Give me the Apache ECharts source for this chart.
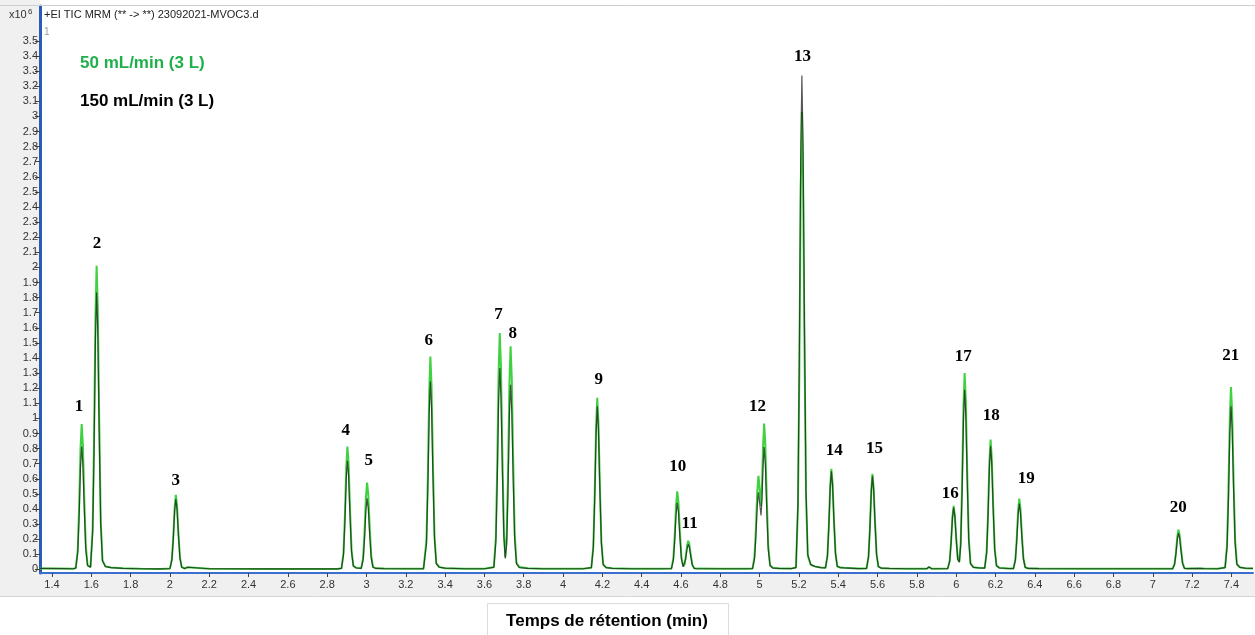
<!DOCTYPE html>
<html><head><meta charset="utf-8">
<script src="https://cdn.jsdelivr.net/npm/echarts@6/dist/echarts.min.js"></script>
<style>html,body{margin:0;padding:0;background:#fff;}#c{width:1255px;height:635px;}</style>
</head><body><div id="c"></div>
<script>
// Retention time (min) for each sampled point of the chromatogram
const times = [
 1.339,1.45,1.51,
 1.521,1.531,1.538,1.545,1.551,1.557,1.564,1.572,1.581,
 1.596,
 1.607,1.614,1.621,1.627,1.633,1.640,1.648,1.657,1.672,
 1.70,1.76,1.85,1.95,
 2.000,2.010,2.017,2.024,2.030,2.036,2.043,2.051,2.060,2.075,
 2.09,2.1,2.2,2.5,2.85,
 2.873,2.883,2.890,2.897,2.903,2.909,2.916,2.924,2.933,2.948,
 2.973,2.983,2.990,2.997,3.003,3.009,3.016,3.024,3.033,3.048,
 3.09,3.2,3.29,
 3.295,3.305,3.312,3.319,3.325,3.331,3.338,3.346,3.355,3.370,
 3.40,3.5,3.6,
 3.648,3.658,3.665,3.672,3.678,3.684,3.691,3.699,3.706,3.713,3.720,3.727,3.733,3.739,3.746,3.754,3.763,3.778,
 3.82,3.9,4.1,
 4.144,4.154,4.161,4.168,4.174,4.180,4.187,4.195,4.204,4.219,
 4.25,4.35,4.5,
 4.551,4.561,4.568,4.575,4.581,4.587,4.594,4.602,4.611,4.619,4.624,4.631,4.637,4.643,4.650,4.658,4.667,4.682,
 4.8,4.93,
 4.964,4.974,4.981,4.988,4.994,5.000,5.007,5.012,5.017,5.023,5.029,5.036,5.044,5.053,5.068,
 5.1,5.16,
 5.185,5.195,5.202,5.209,5.215,5.221,5.228,5.236,5.245,5.260,
 5.28,5.31,
 5.335,5.345,5.352,5.359,5.365,5.371,5.378,5.386,5.395,5.410,
 5.42,5.43,5.5,
 5.544,5.554,5.561,5.568,5.574,5.580,5.587,5.595,5.604,5.619,
 5.66,5.75,5.85,5.862,5.875,
 5.957,5.967,5.974,5.981,5.987,5.993,6.000,6.008,6.016,6.023,6.030,6.037,6.043,6.049,6.056,6.064,6.073,6.088,
 6.12,
 6.145,6.155,6.162,6.169,6.175,6.181,6.188,6.196,6.205,6.220,
 6.26,
 6.291,6.301,6.308,6.315,6.321,6.327,6.334,6.342,6.351,6.366,
 6.42,6.6,6.9,
 7.101,7.111,7.118,7.125,7.131,7.137,7.144,7.152,7.161,7.176,
 7.24,7.25,7.26,7.33,
 7.368,7.378,7.385,7.392,7.398,7.404,7.411,7.419,7.428,7.443,
 7.47,7.51
];
// Intensity (x10^6) at 50 mL/min (3 L)
const flow50 = [
 0.006,0.005,0.004,
 0.01,0.13,0.414,0.798,0.962,0.827,0.481,0.154,0.029,
 0.015,
 0.271,0.864,1.668,2.01,1.729,1.005,0.322,0.06,0.02,
 0.012,0.007,0.004,0.003,
 0.005,0.067,0.212,0.409,0.493,0.424,0.247,0.079,0.015,0.006,
 0.014,0.007,0.004,0.003,0.003,
 0.008,0.11,0.35,0.675,0.813,0.699,0.407,0.13,0.024,0.01,
 0.007,0.078,0.247,0.477,0.575,0.495,0.288,0.092,0.017,0.007,
 0.005,0.004,0.004,
 0.014,0.19,0.606,1.17,1.41,1.213,0.705,0.226,0.042,0.016,
 0.008,0.004,0.004,
 0.016,0.211,0.673,1.299,1.565,1.346,0.783,0.25,0.08,0.2,0.635,1.226,1.477,1.27,0.739,0.236,0.044,0.015,
 0.007,0.004,0.004,
 0.011,0.153,0.489,0.944,1.137,0.978,0.569,0.182,0.034,0.012,
 0.007,0.004,0.004,
 0.005,0.07,0.222,0.428,0.516,0.444,0.258,0.083,0.02,0.035,0.082,0.158,0.19,0.163,0.095,0.03,0.008,0.005,
 0.004,0.004,
 0.006,0.084,0.267,0.515,0.62,0.54,0.42,0.55,0.8,0.965,0.83,0.483,0.154,0.029,0.01,
 0.006,0.005,
 0.012,0.409,1.303,2.515,3.03,2.606,1.515,0.485,0.091,0.03,
 0.02,0.012,
 0.01,0.09,0.286,0.553,0.666,0.573,0.333,0.107,0.02,0.012,
 0.02,0.01,0.005,
 0.006,0.085,0.272,0.525,0.632,0.544,0.316,0.101,0.019,0.008,
 0.006,0.004,0.004,0.016,0.004,
 0.005,0.057,0.181,0.349,0.42,0.361,0.21,0.07,0.05,0.175,0.559,1.079,1.30,1.118,0.65,0.208,0.039,0.014,
 0.009,
 0.009,0.116,0.37,0.714,0.86,0.74,0.43,0.138,0.026,0.01,
 0.006,
 0.005,0.063,0.201,0.388,0.468,0.402,0.234,0.075,0.014,0.006,
 0.005,0.004,0.004,
 0.004,0.036,0.113,0.218,0.263,0.226,0.132,0.042,0.008,0.005,
 0.006,0.01,0.005,0.004,
 0.012,0.163,0.519,1.002,1.207,1.038,0.604,0.193,0.036,0.014,
 0.008,0.006
];
// Intensity (x10^6) at 150 mL/min (3 L)
const flow150 = [
 0.006,0.005,0.004,
 0.008,0.11,0.35,0.675,0.813,0.699,0.407,0.13,0.024,
 0.015,
 0.247,0.788,1.521,1.833,1.576,0.917,0.293,0.055,0.018,
 0.012,0.007,0.004,0.003,
 0.005,0.063,0.2,0.386,0.465,0.4,0.233,0.074,0.014,0.006,
 0.014,0.007,0.004,0.003,0.003,
 0.007,0.097,0.309,0.597,0.719,0.618,0.36,0.115,0.022,0.009,
 0.006,0.063,0.202,0.39,0.47,0.404,0.235,0.075,0.014,0.006,
 0.005,0.004,0.004,
 0.012,0.168,0.535,1.033,1.244,1.07,0.622,0.199,0.037,0.014,
 0.008,0.004,0.004,
 0.013,0.18,0.573,1.106,1.333,1.146,0.667,0.213,0.073,0.165,0.526,1.015,1.223,1.052,0.612,0.196,0.037,0.012,
 0.007,0.004,0.004,
 0.011,0.146,0.464,0.896,1.08,0.929,0.54,0.173,0.032,0.011,
 0.007,0.004,0.004,
 0.004,0.059,0.189,0.365,0.44,0.378,0.22,0.07,0.017,0.03,0.071,0.138,0.166,0.143,0.083,0.027,0.007,0.004,
 0.004,0.004,
 0.005,0.069,0.219,0.423,0.51,0.44,0.357,0.46,0.672,0.81,0.697,0.405,0.13,0.024,0.008,
 0.006,0.005,
 0.012,0.441,1.406,2.714,3.27,2.812,1.635,0.523,0.098,0.033,
 0.02,0.012,
 0.01,0.088,0.28,0.54,0.65,0.559,0.325,0.104,0.02,0.012,
 0.02,0.01,0.005,
 0.006,0.083,0.266,0.513,0.618,0.531,0.309,0.099,0.019,0.008,
 0.006,0.004,0.004,0.016,0.004,
 0.005,0.055,0.176,0.34,0.41,0.353,0.205,0.068,0.048,0.161,0.512,0.988,1.19,1.023,0.595,0.19,0.036,0.013,
 0.009,
 0.008,0.11,0.35,0.676,0.815,0.701,0.408,0.13,0.024,0.009,
 0.006,
 0.004,0.059,0.187,0.361,0.435,0.374,0.218,0.07,0.013,0.006,
 0.005,0.004,0.004,
 0.004,0.032,0.103,0.199,0.24,0.206,0.12,0.038,0.007,0.005,
 0.006,0.01,0.005,0.004,
 0.011,0.146,0.464,0.896,1.08,0.929,0.54,0.173,0.032,0.013,
 0.008,0.006
];
// Peak numbers and the (time, intensity) where each number is written
const peakNames = ['1','2','3','4','5','6','7','8','9','10','11','12','13','14','15','16','17','18','19','20','21'];
const peakLabelTimes = [1.537,1.629,2.030,2.895,3.012,3.317,3.672,3.744,4.181,4.583,4.644,4.989,5.218,5.380,5.584,5.970,6.036,6.179,6.357,7.130,7.397];
const peakLabelLevels = [1.075,2.155,0.585,0.917,0.718,1.513,1.685,1.559,1.254,0.678,0.301,1.075,3.393,0.784,0.797,0.499,1.407,1.016,0.599,0.407,1.413];
// Axis tick labels
const xTicks = [1.4,1.6,1.8,2,2.2,2.4,2.6,2.8,3,3.2,3.4,3.6,3.8,4,4.2,4.4,4.6,4.8,5,5.2,5.4,5.6,5.8,6,6.2,6.4,6.6,6.8,7,7.2,7.4];
const yTicks = [0,0.1,0.2,0.3,0.4,0.5,0.6,0.7,0.8,0.9,1,1.1,1.2,1.3,1.4,1.5,1.6,1.7,1.8,1.9,2,2.1,2.2,2.3,2.4,2.5,2.6,2.7,2.8,2.9,3,3.1,3.2,3.3,3.4,3.5];
const seriesNames = ['50 mL/min (3 L)', '150 mL/min (3 L)'];
const headerText = '+EI TIC MRM (** -> **) 23092021-MVOC3.d';
const xTitle = 'Temps de rétention (min)';

if (times.length !== flow50.length || times.length !== flow150.length) {
  console.error('length mismatch', times.length, flow50.length, flow150.length);
}
const d50 = times.map((t, i) => [t, flow50[i]]);
const d150 = times.map((t, i) => [t, flow150[i]]);

const chart = echarts.init(document.getElementById('c'), null, { renderer: 'canvas' });
const fmt = v => String(+(+v).toFixed(1));
const staticGraphic = [
  { type: 'rect', silent: true, z: -10, shape: { x: 0, y: 0, width: 40, height: 596 }, style: { fill: '#f0f0f0' } },
  { type: 'rect', silent: true, z: -10, shape: { x: 0, y: 574, width: 1255, height: 22 }, style: { fill: '#f0f0f0' } },
  { type: 'line', silent: true, z: 5, shape: { x1: 0, y1: 596.5, x2: 1255, y2: 596.5 }, style: { stroke: '#d6d6d6', lineWidth: 1 } },
  { type: 'line', silent: true, z: 5, shape: { x1: 0, y1: 5.5, x2: 1255, y2: 5.5 }, style: { stroke: '#cfcfcf', lineWidth: 1 } },
  { type: 'text', silent: true, z: 10, style: { x: 9, y: 15, text: 'x10', fill: '#333', font: '11px "Liberation Sans", Arial', textVerticalAlign: 'middle' } },
  { type: 'text', silent: true, z: 10, style: { x: 28, y: 12, text: '6', fill: '#333', font: '8px "Liberation Sans", Arial', textVerticalAlign: 'middle' } },
  { type: 'text', silent: true, z: 10, style: { x: 44, y: 15, text: headerText, fill: '#222', font: '11px "Liberation Sans", Arial', textVerticalAlign: 'middle' } },
  { type: 'text', silent: true, z: 10, style: { x: 44, y: 32, text: '1', fill: '#999', font: '10px "Liberation Sans", Arial', textVerticalAlign: 'middle' } },
  { type: 'text', silent: true, z: 10, style: { x: 80, y: 63, text: seriesNames[0], fill: '#1fb04c', font: 'bold 17px "Liberation Sans", Arial', textVerticalAlign: 'middle' } },
  { type: 'text', silent: true, z: 10, style: { x: 80, y: 101, text: seriesNames[1], fill: '#000', font: 'bold 17px "Liberation Sans", Arial', textVerticalAlign: 'middle' } },
  { type: 'rect', silent: true, z: 5, shape: { x: 487.5, y: 603.5, width: 241, height: 40 }, style: { fill: '#fff', stroke: '#dcdcdc', lineWidth: 1 } },
  { type: 'text', silent: true, z: 10, style: { x: 607, y: 621, text: xTitle, fill: '#000', font: 'bold 17px "Liberation Sans", Arial', textAlign: 'center', textVerticalAlign: 'middle' } }
];
chart.setOption({
  animation: false,
  backgroundColor: '#ffffff',
  grid: { left: 40, right: 2, top: 6, bottom: 62, show: true, backgroundColor: '#ffffff', borderWidth: 0 },
  graphic: staticGraphic,
  xAxis: {
    type: 'value', min: 1.339, max: 7.51,
    axisLine: { show: true, onZero: false, lineStyle: { color: '#3a6fcf', width: 2 } },
    axisTick: { show: true, customValues: xTicks, length: 4, lineStyle: { color: '#444' } },
    axisLabel: { customValues: xTicks, formatter: fmt, color: '#333', fontSize: 11, fontFamily: '"Liberation Sans", Arial', margin: 6 },
    splitLine: { show: false }
  },
  yAxis: {
    type: 'value', min: -0.024, max: 3.731,
    axisLine: { show: true, onZero: false, lineStyle: { color: '#2a5cb3', width: 3 } },
    axisTick: { show: true, customValues: yTicks, length: 5, lineStyle: { color: '#444' } },
    axisLabel: { customValues: yTicks, formatter: fmt, color: '#333', fontSize: 11, fontFamily: '"Liberation Sans", Arial', margin: 2 },
    splitLine: { show: false }
  },
  series: [
    { name: seriesNames[0], type: 'line', data: d50, showSymbol: false, smooth: false,
      lineStyle: { color: '#3fd13f', width: 2 }, z: 2, silent: true },
    { name: seriesNames[1], type: 'line', data: d150, showSymbol: false, smooth: false,
      lineStyle: { color: '#1c1c1c', width: 1.2, opacity: 0.75 }, z: 3, silent: true }
  ]
});
// Peak numbers placed through the chart's own axes
const labelGraphic = peakNames.map((n, i) => {
  const p = chart.convertToPixel({ gridIndex: 0 }, [peakLabelTimes[i], peakLabelLevels[i]]);
  return { type: 'text', silent: true, z: 20,
    style: { x: p[0], y: p[1], text: n, fill: '#000', textAlign: 'center', textVerticalAlign: 'middle',
             font: 'bold 17px "Liberation Serif", "Times New Roman", serif' } };
});
chart.setOption({ graphic: staticGraphic.concat(labelGraphic) });
</script>
</body></html>
